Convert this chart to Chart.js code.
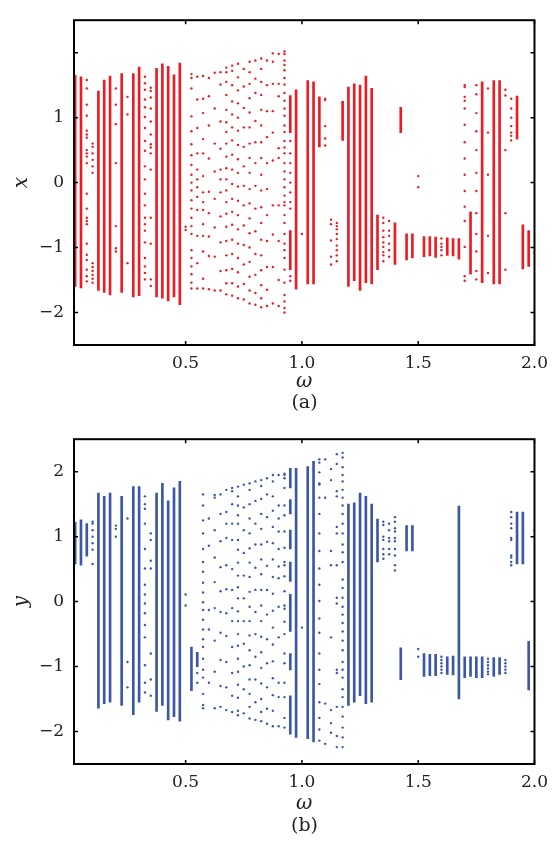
<!DOCTYPE html>
<html>
<head>
<meta charset="utf-8">
<script src="https://cdn.jsdelivr.net/npm/chart.js@4.4.0/dist/chart.umd.min.js"></script>
<style>
  html, body { margin: 0; padding: 0; background: #fff; }
  body { width: 556px; height: 841px; position: relative; overflow: hidden; }
  .panel { position: absolute; left: 0; width: 556px; }
  .tag { position: absolute; left: 0; width: 609px; text-align: center;
         font-family: "DejaVu Serif", serif; font-size: 19px; color: #222; }
</style>
</head>
<body>
<div class="panel" style="top:0;height:420px"><canvas id="chartA"></canvas></div>
<div class="panel" style="top:419px;height:422px"><canvas id="chartB"></canvas></div>
<div class="tag" style="top:390px">(a)</div>
<div class="tag" style="top:813px">(b)</div>
<script>
// tick values
var xTickValues = [0.5, 1.0, 1.5, 2.0];
var yTickValues = [-2, -1, 0, 1, 2];

// (a) x : dense bands  (omega, low, high)
var xBandOmega = [0.025, 0.05, 0.125, 0.15, 0.175, 0.225, 0.275, 0.3, 0.375, 0.4, 0.425, 0.45, 0.475,
  0.95, 0.95, 0.975, 1.025, 1.05, 1.075, 1.175, 1.2, 1.225, 1.25, 1.275, 1.3, 1.325, 1.4, 1.425,
  1.45, 1.475, 1.525, 1.55, 1.575, 1.625, 1.65, 1.675, 1.725, 1.775, 1.825, 1.85, 1.925, 1.95, 1.975];
var xBandLow = [-1.60, -1.62, -1.66, -1.69, -1.73, -1.69, -1.76, -1.74, -1.76, -1.78, -1.82, -1.76, -1.88,
  0.77, -1.34, -1.64, -1.56, -1.56, 0.55, 0.65, -1.6, -1.51, -1.66, -1.54, -1.56, -1.34, -1.26, 0.77,
  -1.19, -1.16, -1.14, -1.13, -1.15, -1.12, -1.13, -1.18, -1.41, -1.54, -1.56, -1.56, 0.67, -1.33, -1.29];
var xBandHigh = [1.65, 1.63, 1.41, 1.58, 1.64, 1.68, 1.68, 1.78, 1.76, 1.83, 1.79, 1.66, 1.84,
  1.34, -0.74, 1.43, 1.57, 1.55, 1.32, 1.25, 1.47, 1.52, 1.5, 1.64, 1.45, -0.5, -0.62, 1.16,
  -0.79, -0.79, -0.83, -0.83, -0.84, -0.85, -0.86, -0.86, -0.45, 1.55, 1.57, 1.57, 1.33, -0.65, -0.74];

// (a) x : separate points per omega
var xDotOmega = [0.075, 0.1, 0.2, 0.25, 0.325, 0.35, 0.5, 0.525, 0.55, 0.575, 0.6, 0.625, 0.65, 0.675,
  0.7, 0.725, 0.75, 0.775, 0.8, 0.825, 0.85, 0.875, 0.9, 0.925, 0.95, 1.0, 1.1, 1.125, 1.15, 1.35,
  1.375, 1.5, 1.6, 1.7, 1.75, 1.8, 1.875, 1.9, 2.0];
var xDotValues = [
  [1.58, 1.45, 1.2, 1.03, 0.8, 0.74, 0.69, 0.5, 0.45, 0.4, 0.3, -0.17, -0.4, -0.54, -0.59, -0.64, -0.94, -1.11, -1.19, -1.34, -1.44, -1.52],
  [0.6, 0.55, 0.45, 0.35, 0.25, 0.15, -1.24, -1.3, -1.36, -1.42, -1.48, -1.54],
  [1.45, 1.2, 0.9, 0.3, -0.67, -1.01, -1.06],
  [1.32, 1.05, -1.24],
  [1.63, 1.53, 1.43, 1.28, 1.16, 1.01, 0.84, 0.64, 0.49, 0.25, 0.05, -0.17, -0.35, -0.54, -0.64, -0.74, -0.92, -1.16, -1.29, -1.39, -1.49],
  [1.46, 1.41, 1.31, 1.14, 0.94, 0.74, 0.59, 0.54, 0.45, 0.2, -0.54, -0.94, -1.49, -1.59],
  [-0.68, -0.73],
  [1.67, 1.61, 1.45, 1.02, 0.79, 0.59, 0.42, 0.27, 0.12, 0, -0.12, -0.27, -0.4, -0.54, -0.67, -0.79, -1.04, -1.16, -1.29, -1.41, -1.54, -1.63],
  [1.63, 1.28, 0.84, 0.45, 0.2, 0.05, -0.07, -0.22, -0.42, -0.82, -1.24, -1.63],
  [1.64, 1.29, 1.07, 0.67, 0.45, 0.1, -0.15, -0.3, -0.42, -0.64, -0.82, -1.06, -1.48, -1.63],
  [1.61, 1.33, 0.88, 0.37, -0.14, -0.47, -0.83, -1.13, -1.64],
  [1.69, 1.14, 0.6, 0.17, -0.25, -0.69, -1.14, -1.66],
  [1.7, 1.51, 0.94, 0.52, 0.2, 0.05, -0.15, -0.52, -0.92, -1.36, -1.66],
  [1.77, 1.7, 1.55, 1.35, 1.12, 0.93, 0.78, 0.6, 0.4, 0.22, 0.05, -0.12, -0.3, -0.48, -0.68, -0.9, -1.12, -1.35, -1.55, -1.72],
  [1.8, 1.72, 1.5, 1.25, 1.05, 0.85, 0.65, 0.43, 0.2, -0.02, -0.25, -0.45, -0.65, -0.88, -1.1, -1.33, -1.55, -1.74],
  [1.83, 1.62, 1.42, 1.22, 1.0, 0.8, 0.58, 0.36, 0.15, -0.06, -0.28, -0.5, -0.72, -0.94, -1.16, -1.38, -1.6, -1.78],
  [1.75, 1.48, 1.15, 0.85, 0.55, 0.25, -0.05, -0.35, -0.66, -0.96, -1.26, -1.56, -1.8],
  [1.86, 1.7, 1.52, 1.3, 1.08, 0.85, 0.6, 0.38, 0.15, -0.1, -0.32, -0.55, -0.78, -1.0, -1.22, -1.45, -1.66, -1.86],
  [1.88, 1.6, 1.38, 0.95, 0.62, 0.3, -0.05, -0.4, -0.75, -1.1, -1.42, -1.7, -1.88],
  [1.91, 1.75, 1.55, 1.35, 1.12, 0.88, 0.62, 0.38, 0.12, -0.12, -0.38, -0.62, -0.88, -1.12, -1.35, -1.58, -1.78, -1.92],
  [1.88, 1.5, 1.1, 0.7, 0.3, -0.1, -0.5, -0.9, -1.3, -1.65, -1.9],
  [1.99, 1.86, 1.52, 1.1, 0.77, 0.34, -0.35, -0.8, -1.3, -1.86],
  [1.98, 1.52, 1.33, 0.53, 0.38, -0.35, -0.9, -1.5, -1.9],
  [2.02, 1.98, 1.88, 1.81, 1.73, 1.61, 1.51, 1.38, 1.26, 1.14, 1.03, 0.88, 0.78, 0.64, 0.54, 0.45, 0.3, 0.17, 0.05, -0.07, -0.2, -0.3, -0.35, -0.5, -0.62, -0.79, -0.94, -1.04, -1.16, -1.34, -1.54, -1.73, -1.83, -1.93, -2.0],
  [0.64, 0.45, 0.3, 0.15, 0.0, -0.15, -0.3, -0.4, -1.44, -1.51],
  [-0.79],
  [1.29, 1.27, 0.87, 0.68, 0.57],
  [-0.57, -0.64, -0.89, -1.14, -1.26],
  [-0.62, -0.67, -0.72, -0.79, -0.87, -0.97, -1.04, -1.12, -1.21],
  [-0.54, -0.62, -0.74, -0.84, -0.92, -0.99, -1.07, -1.12, -1.21],
  [-0.59, -0.74, -0.82, -0.94, -1.04, -1.14],
  [0.1, -0.07],
  [-0.86, -0.94, -0.99, -1.04, -1.12],
  [1.5, 1.47, 1.32, 1.26, 1.14, 0.89, 0.62, 0.37, 0.12, -0.13, -0.37, -0.59, -0.99, -1.44, -1.51],
  [1.5, 1.36, 1.07, 0.79, 0.5, 0.15, -0.13, -0.47, -0.79, -1.06, -1.36, -1.49],
  [1.45, 0.77, 0.12, -0.82, -1.39],
  [1.43, 1.34, 0.5, -0.47, -1.34],
  [1.29, 1.14, 1.0, 0.87, 0.77, 0.72, 0.65],
  [-1.08]
];

// (b) y : dense bands
var yBandOmega = [0.025, 0.05, 0.075, 0.125, 0.15, 0.175, 0.225, 0.275, 0.3, 0.375, 0.4, 0.425, 0.45, 0.475,
  0.525, 0.55, 0.95, 0.95, 0.95, 0.95, 0.95, 0.95, 0.95, 0.975, 1.025, 1.05, 1.2, 1.225, 1.25, 1.275, 1.3,
  1.325, 1.425, 1.45, 1.475, 1.525, 1.55, 1.575, 1.625, 1.65, 1.675, 1.7, 1.725, 1.75, 1.775, 1.825, 1.85,
  1.925, 1.95, 1.975];
var yBandLow = [0.58, 0.56, 0.7, -1.64, -1.57, -1.55, -1.6, -1.74, -1.55, -1.69, -1.6, -1.82, -1.77, -1.84,
  -1.37, -1.0, 1.75, 1.35, 0.81, 0.31, -0.46, -1.05, -2.04, -2.09, -2.11, -2.16, -1.6, -1.55, -1.45, -1.57, -1.55,
  0.61, -1.2, 0.78, 0.78, -1.15, -1.14, -1.14, -1.12, -1.13, -1.5, -1.17, -1.15, -1.17, -1.17, -1.15, -1.12,
  0.58, 0.58, -1.36];
var yBandHigh = [1.22, 1.26, 1.2, 1.67, 1.62, 1.67, 1.62, 1.77, 1.77, 1.67, 1.82, 1.55, 1.75, 1.85,
  -0.7, -0.78, 2.05, 1.57, 1.1, 0.61, 0.11, -0.8, -1.45, 2.05, 2.08, 2.16, 1.5, 1.52, 1.67, 1.62, 1.5,
  1.27, -0.71, 1.17, 1.17, -0.8, -0.81, -0.81, -0.85, -0.84, 1.47, -0.85, -0.85, -0.85, -0.85, -0.86, -0.86,
  1.38, 1.38, -0.61];

// (b) y : separate points per omega
var yDotOmega = [0.1, 0.2, 0.25, 0.325, 0.35, 0.5, 0.55, 0.575, 0.6, 0.625, 0.65, 0.675, 0.7, 0.725, 0.75,
  0.775, 0.8, 0.825, 0.85, 0.875, 0.9, 0.925, 1.0, 1.075, 1.1, 1.125, 1.15, 1.175, 1.35, 1.375, 1.4, 1.5,
  1.6, 1.8, 1.875, 1.9, 2.0];
var yDotValues = [
  [1.23, 1.2, 1.1, 1.0, 0.9, 0.8, 0.58],
  [1.17, 1.12, 1.0],
  [1.28, -0.93, -1.32],
  [1.62, 1.5, 1.43, 1.2, 0.81, 0.51, 0.26, 0.11, -0.03, -0.18, -0.36, -0.55, -0.98, -1.25, -1.4],
  [1.05, 0.95, 0.63, 0.51, -0.8, -1.2, -1.45],
  [0.11, -0.06],
  [-1.1, -1.25],
  [1.65, 1.48, 1.25, 1.05, 0.81, 0.61, 0.46, 0.29, 0.14, -0.01, -0.13, -0.28, -0.43, -0.58, -0.7, -0.88, -1.05, -1.17, -1.42, -1.59, -1.64],
  [1.28, 0.86, -0.13, -0.43, -1.25],
  [1.64, 1.6, 1.1, 0.68, 0.3, -0.1, -0.6, -1.08, -1.64],
  [1.65, 1.35, 0.93, 0.53, 0.16, -0.16, -0.48, -0.9, -1.3, -1.62],
  [1.72, 1.38, 1.2, 0.98, 0.56, 0.19, -0.18, -0.53, -0.93, -1.32, -1.67],
  [1.75, 1.7, 1.5, 1.2, 0.95, 0.5, 0.18, -0.1, -0.3, -0.7, -1.1, -1.45, -1.7],
  [1.77, 1.62, 1.48, 1.33, 1.2, 0.95, 0.8, 0.6, 0.4, 0.22, 0.05, -0.15, -0.3, -0.5, -0.68, -0.88, -1.08, -1.28, -1.48, -1.68, -1.75],
  [1.8, 1.45, 1.1, 0.75, 0.4, 0.05, -0.3, -0.65, -1.0, -1.35, -1.72],
  [1.82, 1.72, 1.5, 1.28, 1.05, 0.82, 0.6, 0.38, 0.15, -0.08, -0.3, -0.52, -0.75, -0.98, -1.2, -1.42, -1.62, -1.8],
  [1.85, 1.55, 1.2, 0.88, 0.52, 0.18, -0.16, -0.5, -0.85, -1.2, -1.55, -1.82],
  [1.87, 1.78, 1.58, 1.35, 1.12, 0.88, 0.65, 0.42, 0.18, -0.06, -0.3, -0.54, -0.78, -1.02, -1.26, -1.5, -1.7, -1.84],
  [1.9, 1.65, 1.3, 0.92, 0.55, 0.18, -0.2, -0.58, -0.95, -1.32, -1.65, -1.88],
  [1.95, 1.85, 1.62, 1.4, 1.15, 0.9, 0.65, 0.38, 0.12, -0.14, -0.4, -0.66, -0.92, -1.18, -1.44, -1.68, -1.92],
  [1.95, 1.48, 1.28, 1.08, 0.81, 0.54, 0.36, -0.08, -0.55, -1.25, -1.47, -1.92],
  [1.97, 1.95, 1.9, 1.75, 1.48, 1.33, 1.08, 0.83, 0.61, 0.56, 0.39, 0.16, -0.06, -0.11, -0.31, -0.5, -0.8, -0.95, -1.25, -1.47, -1.79, -1.94],
  [-0.4],
  [2.19, 2.14, 1.99, 1.82, 1.8, 1.6, 1.35, 1.05, 0.78, 0.51, 0.26, 0.01, -0.26, -0.48, -0.8, -1.05, -1.27, -1.55, -1.79, -1.97, -2.14],
  [2.19, 1.6, -1.57, -2.19],
  [2.04, 1.87, 0.78, 0.56, -0.55, -1.67, -1.87, -2.02],
  [2.27, 2.12, 1.7, 1.62, 1.15, 1.05, 0.56, 0.06, -0.03, -1.05, -1.1, -1.62, -2.07, -2.24],
  [2.29, 2.22, 2.07, 1.95, 1.85, 1.72, 1.6, 1.48, 1.35, 1.2, 1.05, 0.88, 0.76, 0.61, 0.34, 0.21, 0.06, -0.08, -0.2, -0.33, -0.46, -0.6, -0.75, -0.93, -1.05, -1.17, -1.35, -1.47, -1.62, -1.77, -1.94, -2.09, -2.24],
  [1.23, 1.18, 1.0, 0.95, 0.81, 0.73, 0.66],
  [1.2, 1.1, 0.98, 0.93, 0.81, 0.73],
  [1.3, 1.23, 1.13, 1.08, 0.98, 0.93, 0.81, 0.71, 0.56, 0.48],
  [-0.73, -0.85],
  [-0.85, -0.9, -0.95, -1.0, -1.05, -1.1],
  [-0.88, -0.93, -0.98, -1.03, -1.08, -1.12],
  [-0.9, -0.95, -1.0, -1.05, -1.1],
  [1.38, 1.3, 1.2, 1.13, 0.98, 0.95, 0.71, 0.68, 0.61, 0.56],
  [1.1]
];

// frame with inward ticks on all four sides
var boxTicks = {
  id: 'boxTicks',
  afterDraw: function (chart) {
    var ctx = chart.ctx, a = chart.chartArea, sx = chart.scales.x, sy = chart.scales.y;
    ctx.save();
    ctx.strokeStyle = '#000';
    ctx.lineWidth = 1.5;
    ctx.beginPath();
    xTickValues.forEach(function (v) {
      var px = sx.getPixelForValue(v);
      ctx.moveTo(px, a.bottom); ctx.lineTo(px, a.bottom - 4);
      ctx.moveTo(px, a.top); ctx.lineTo(px, a.top + 4);
    });
    yTickValues.forEach(function (v) {
      var py = sy.getPixelForValue(v);
      ctx.moveTo(a.left, py); ctx.lineTo(a.left + 4, py);
      ctx.moveTo(a.right, py); ctx.lineTo(a.right - 4, py);
    });
    ctx.stroke();
    ctx.lineWidth = 2;
    ctx.strokeRect(a.left, a.top, a.right - a.left, a.bottom - a.top);
    ctx.restore();
  }
};

function minusLabel(v) {
  return v < 0 ? '\u2212' + (-v) : String(v);
}

function makeChart(id, bandOmega, bandLow, bandHigh, dotOmega, dotValues, color, axisName, axisHeight, titlePad, hideTopLabel) {
  var bars = bandOmega.map(function (w, i) { return {x: w, y: [bandLow[i], bandHigh[i]]}; });
  var dots = [];
  dotOmega.forEach(function (w, i) {
    dotValues[i].forEach(function (v) { dots.push({x: w, y: v}); });
  });
  return new Chart(document.getElementById(id), {
    type: 'scatter',
    data: {
      datasets: [
        { type: 'bar', data: bars, backgroundColor: color, borderWidth: 0, barThickness: 2 },
        { type: 'scatter', data: dots, backgroundColor: color, borderWidth: 0, pointRadius: 1.2 }
      ]
    },
    options: {
      animation: false,
      responsive: true,
      maintainAspectRatio: false,
      layout: { padding: { top: 9, right: 21, left: 0, bottom: 0 } },
      plugins: { legend: { display: false }, tooltip: { enabled: false } },
      scales: {
        x: {
          type: 'linear', min: 0.02, max: 2.0, offset: false,
          grid: { display: false, drawTicks: false }, border: { display: false },
          afterBuildTicks: function (s) { s.ticks = xTickValues.map(function (v) { return {value: v}; }); },
          afterFit: function (s) { s.height = axisHeight; },
          ticks: { padding: 8, color: '#222', font: { family: 'DejaVu Serif', size: 17 },
                   callback: function (v) { return v.toFixed(1); } },
          title: { display: true, text: '\u03c9', color: '#222',
                   font: { family: 'DejaVu Serif', size: 20, style: 'italic' },
                   padding: { top: 0, bottom: titlePad } }
        },
        y: {
          type: 'linear', min: -2.5, max: 2.5,
          grid: { display: false, drawTicks: false }, border: { display: false },
          afterBuildTicks: function (s) { s.ticks = yTickValues.map(function (v) { return {value: v}; }); },
          afterFit: function (s) { s.width = 74; },
          ticks: { padding: 10, color: '#222', font: { family: 'DejaVu Serif', size: 17 },
                   callback: function (v) { return (hideTopLabel && v === 2) ? '' : minusLabel(v); } },
          title: { display: true, text: axisName, color: '#222',
                   font: { family: 'DejaVu Serif', size: 20, style: 'italic' },
                   padding: { top: 10, bottom: 0 } }
        }
      }
    },
    plugins: [boxTicks]
  });
}

var chartA = makeChart('chartA', xBandOmega, xBandLow, xBandHigh, xDotOmega, xDotValues, '#ec1c24', 'x', 75, 26, true);
var chartB = makeChart('chartB', yBandOmega, yBandLow, yBandHigh, yDotOmega, yDotValues, '#3c57a6', 'y', 77, 25, false);
</script>
</body>
</html>
